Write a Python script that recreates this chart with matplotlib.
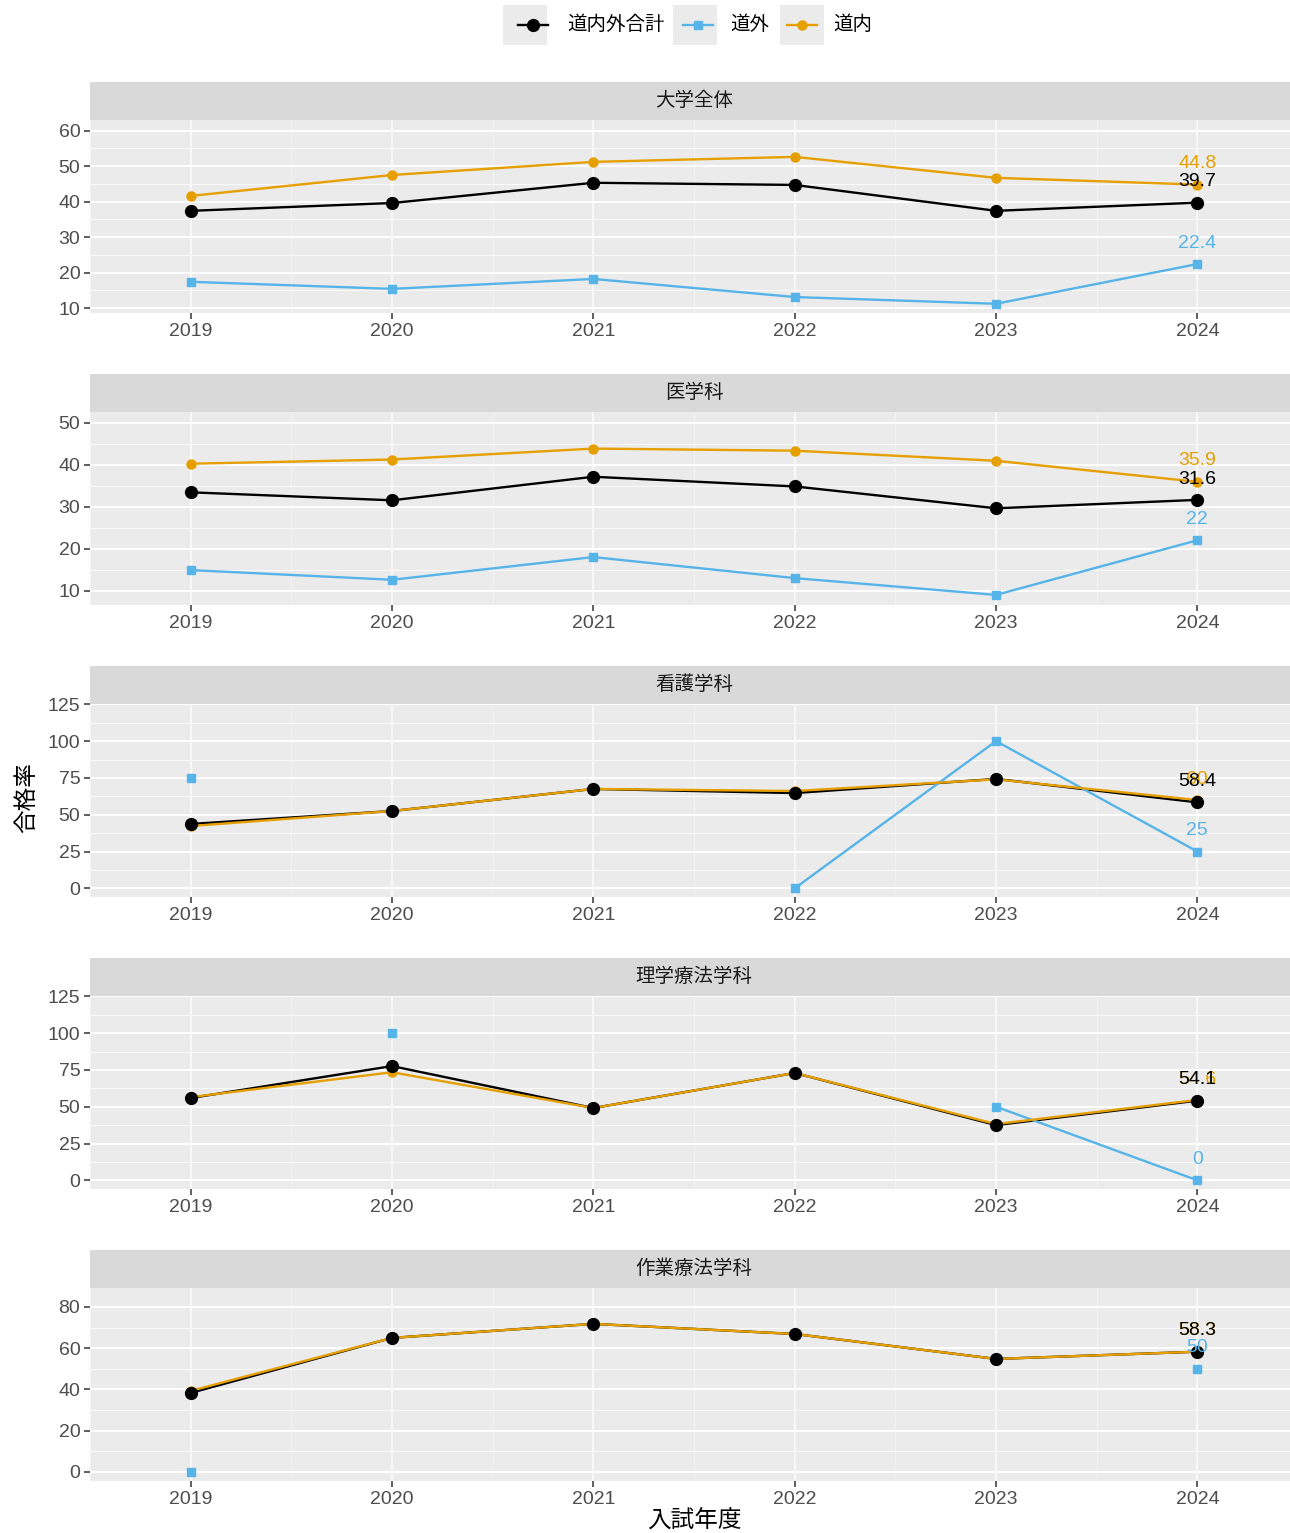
import numpy as np
import matplotlib
matplotlib.use("Agg")
import matplotlib.pyplot as plt
from matplotlib.lines import Line2D
from matplotlib.patches import Rectangle

plt.rcParams['font.family'] = ['Liberation Sans', 'Noto Sans CJK JP', 'DejaVu Sans']

nan = np.nan
years = [2019, 2020, 2021, 2022, 2023, 2024]
facets = ["大学全体", "医学科", "看護学科", "理学療法学科", "作業療法学科"]
series_names = ["道内外合計", "道外", "道内"]

# pass rate (%) per faculty: total / outside Hokkaido / inside Hokkaido
total_univ = [37.4, 39.6, 45.3, 44.7, 37.4, 39.7]
outside_univ = [17.4, 15.4, 18.2, 13.1, 11.2, 22.4]
inside_univ = [41.6, 47.5, 51.2, 52.6, 46.7, 44.8]

total_med = [33.4, 31.5, 37.1, 34.8, 29.6, 31.6]
outside_med = [14.9, 12.6, 18.0, 13.0, 9.0, 22]
inside_med = [40.2, 41.2, 43.8, 43.3, 40.9, 35.9]

total_nurse = [43.7, 52.5, 67.5, 64.7, 74.3, 58.4]
outside_nurse = [75, nan, nan, 0, 100, 25]
inside_nurse = [42.3, 52.5, 67.5, 66.1, 74.0, 60]

total_pt = [55.9, 77.6, 49.1, 72.9, 37.5, 54.1]
outside_pt = [nan, 100, nan, nan, 50, 0]
inside_pt = [56.5, 73.4, 49.1, 72.9, 38.2, 54.6]

total_ot = [38.3, 65.0, 71.8, 66.9, 54.8, 58.3]
outside_ot = [0, nan, nan, nan, nan, 50]
inside_ot = [39.3, 65.0, 71.8, 66.9, 54.8, 58.3]

y_ticks = [[10, 20, 30, 40, 50, 60],
           [10, 20, 30, 40, 50],
           [0, 25, 50, 75, 100, 125],
           [0, 25, 50, 75, 100, 125],
           [0, 20, 40, 60, 80]]

panel_data = [
    (total_univ, outside_univ, inside_univ),
    (total_med, outside_med, inside_med),
    (total_nurse, outside_nurse, inside_nurse),
    (total_pt, outside_pt, inside_pt),
    (total_ot, outside_ot, inside_ot),
]

# styling
colors = ["#000000", "#56B4E9", "#E69F00"]
markers = ["o", "s", "o"]
msizes = [8.5, 5.2, 6.5]
y_limits = [(8.6, 63.0), (6.6, 52.5), (-5.9, 125.2), (-5.9, 125.2), (-4.4, 89.2)]

W, H = 1290, 1533
fig = plt.figure(figsize=(W / 100, H / 100), dpi=100)
fig.patch.set_facecolor("white")

left_px, right_px = 90, 1298
step = 292
tick_color = "#4D4D4D"

def fy(px):
    return 1 - px / H

for i, name in enumerate(facets):
    top = 120 + step * i
    bot = 313 + step * i
    ax = fig.add_axes([left_px / W, fy(bot), (right_px - left_px) / W, (bot - top) / H])
    ax.set_facecolor("#EBEBEB")
    yt = y_ticks[i]
    ax.set_yticks(yt)
    ax.set_xticks(years)
    d = yt[1] - yt[0]
    ax.set_yticks([v + d / 2 for v in [yt[0] - d] + yt], minor=True)
    ax.set_xticks([y + 0.5 for y in [2018] + years], minor=True)
    # limits after ticks so the tick lists do not widen the view
    ax.set_xlim(2018.5, 2024.5)
    ax.set_ylim(*y_limits[i])
    ax.tick_params(axis="x", which="minor", length=0)
    ax.tick_params(axis="y", which="minor", length=0)
    ax.grid(which="major", axis="y", color="white", lw=1.4)
    ax.grid(which="minor", axis="y", color="white", lw=0.7, alpha=0.8)
    ax.grid(which="major", axis="x", color="white", lw=1.4, alpha=0.7)
    ax.grid(which="minor", axis="x", color="white", lw=0.7, alpha=0.4)
    ax.set_axisbelow(True)
    for s in ax.spines.values():
        s.set_visible(False)
    ax.tick_params(axis="both", which="major", length=4, width=1.1,
                   color="#333333", labelcolor=tick_color, labelsize=14, pad=3)
    ax.set_xticklabels([str(y) for y in years])

    vals = panel_data[i]
    # lines first, then points
    for k in range(3):
        ax.plot(years, vals[k], color=colors[k], lw=1.7, zorder=2 + k * 0.1,
                solid_capstyle="butt")
    for k in [2, 1, 0]:
        ax.plot(years, vals[k], ls="none", marker=markers[k], ms=msizes[k],
                color=colors[k], mec=colors[k], zorder=3)
    # value labels at the last year
    for k in [2, 1, 0]:
        v = vals[k][-1]
        if np.isfinite(v):
            ax.annotate(f"{v:g}", xy=(years[-1], v), xytext=(0, 15),
                        textcoords="offset points", ha="center", va="center",
                        fontsize=14, color=colors[k], zorder=5)

    # facet strip
    sax = fig.add_axes([left_px / W, fy(top), (right_px - left_px) / W, 38 / H])
    sax.set_facecolor("#D9D9D9")
    sax.set_xticks([])
    sax.set_yticks([])
    for s in sax.spines.values():
        s.set_visible(False)
    fig.text((left_px + right_px) / 2 / W, fy(top - 19), name, ha="center",
             va="center", fontsize=14, color="#1A1A1A",
             family=["Noto Sans CJK JP"])

# axis titles
fig.text((left_px + right_px) / 2 / W, fy(1521), "入試年度", ha="center",
         va="center", fontsize=17, color="black", family=["Noto Sans CJK JP"])
fig.text(27 / W, fy(798), "合格率", ha="center", va="center", rotation=90,
         fontsize=17, color="black", family=["Noto Sans CJK JP"])

# legend at the top
legend_items = [(503, 533, 567), (673, 698, 730), (780, 802, 833)]
for k, (bx, cx, tx) in enumerate(legend_items):
    fig.patches.append(Rectangle((bx / W, fy(45)), 44 / W, 40 / H,
                                 transform=fig.transFigure, facecolor="#EBEBEB",
                                 edgecolor="none"))
    fig.lines.append(Line2D([(cx - 15) / W, (cx + 15) / W], [fy(25), fy(25)],
                            transform=fig.transFigure, color=colors[k], lw=1.7))
    fig.lines.append(Line2D([cx / W], [fy(25)], transform=fig.transFigure,
                            marker=markers[k], ms=msizes[k], color=colors[k],
                            ls="none"))
    fig.text(tx / W, fy(25), series_names[k], ha="left", va="center",
             fontsize=14, color="black", family=["Noto Sans CJK JP"])

fig.savefig("out.png", dpi=100, facecolor="white")
